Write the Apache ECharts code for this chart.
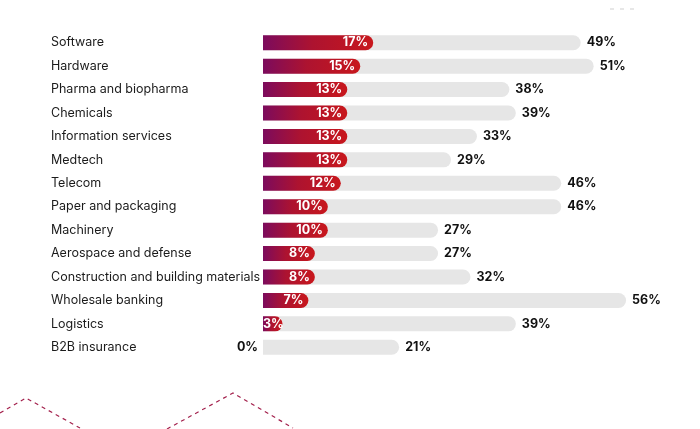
<!DOCTYPE html>
<html>
<head>
<meta charset="utf-8">
<script src="https://cdn.jsdelivr.net/npm/echarts@6/dist/echarts.min.js"></script>
<style>
  html, body { margin: 0; padding: 0; background: #fff; }
  #chart { width: 700px; height: 429px; }
</style>
</head>
<body>
<div id="chart"></div>
<script>
  const categories = [
    "Software", "Hardware", "Pharma and biopharma", "Chemicals",
    "Information services", "Medtech", "Telecom", "Paper and packaging",
    "Machinery", "Aerospace and defense", "Construction and building materials",
    "Wholesale banking", "Logistics", "B2B insurance"
  ];
  const totalShare = [49, 51, 38, 39, 33, 29, 46, 46, 27, 27, 32, 56, 39, 21];
  const leadShare = [17, 15, 13, 13, 13, 13, 12, 10, 10, 8, 8, 7, 3, 0];

  const chart = echarts.init(document.getElementById("chart"));
  const font = "Inter, 'Noto Sans', sans-serif";

  const option = {
    animation: false,
    grid: { left: 263, right: 48, top: 31, bottom: 70 },
    xAxis: {
      type: "value",
      min: 0,
      max: 60,
      show: false
    },
    yAxis: {
      type: "category",
      data: categories,
      inverse: true,
      axisLine: { show: false },
      axisTick: { show: false },
      axisLabel: {
        align: "left",
        margin: 212,
        color: "#1b1b1b",
        fontSize: 12.5,
        fontFamily: font
      }
    },
    series: [
      {
        name: "total",
        type: "bar",
        data: totalShare,
        barWidth: 15,
        itemStyle: { color: "#e6e6e6", borderRadius: [0, 8, 8, 0] },
        label: {
          show: true,
          position: "right",
          distance: 6,
          formatter: "{c}%",
          color: "#111",
          fontWeight: "bold",
          fontSize: 12.5,
          fontFamily: font
        },
        z: 1
      },
      {
        name: "lead",
        type: "bar",
        barGap: "-100%",
        barWidth: 15,
        data: leadShare.map((v) => {
          if (v === 0) {
            return { value: v, label: { position: "left", color: "#111", distance: 5 } };
          }
          if (v < 5) {
            return { value: v, label: { position: "insideLeft", distance: 0 } };
          }
          return v;
        }),
        itemStyle: {
          borderRadius: [0, 8, 8, 0],
          color: new echarts.graphic.LinearGradient(0, 0, 1, 0, [
            { offset: 0, color: "#7c0b5d" },
            { offset: 0.45, color: "#ad1330" },
            { offset: 1, color: "#c8171c" }
          ])
        },
        label: {
          show: true,
          position: "insideRight",
          distance: 5,
          formatter: "{c}%",
          color: "#fff",
          fontWeight: "bold",
          fontSize: 12.5,
          fontFamily: font
        },
        z: 2
      }
    ],
    graphic: [
      {
        type: "polyline",
        shape: { points: [[0, 413], [26, 398], [80, 428]] },
        style: { fill: null, stroke: "#a3204c", lineWidth: 1.2, lineDash: [4, 4] }
      },
      {
        type: "polyline",
        shape: { points: [[167, 429], [233, 393], [293, 428]] },
        style: { fill: null, stroke: "#a3204c", lineWidth: 1.2, lineDash: [4, 4] }
      },
      {
        type: "line",
        shape: { x1: 610, y1: 9, x2: 640, y2: 9 },
        style: { stroke: "#cfcfcf", lineWidth: 1, lineDash: [4, 6] }
      }
    ]
  };

  chart.setOption(option);
</script>
</body>
</html>
